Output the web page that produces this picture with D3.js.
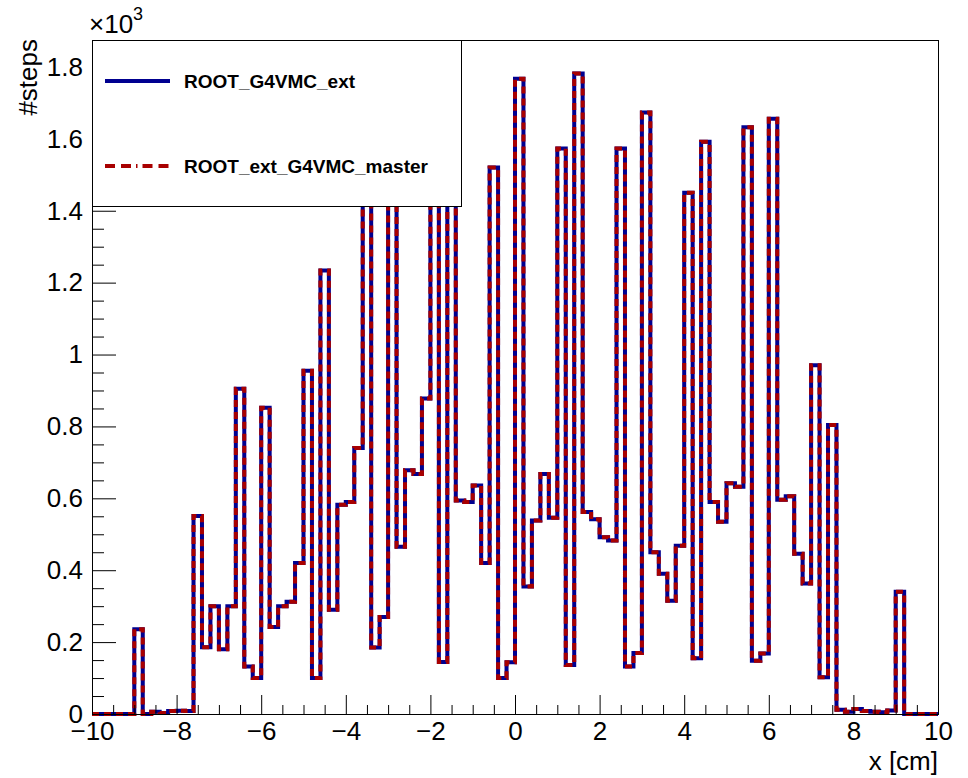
<!DOCTYPE html>
<html>
<head>
<meta charset="utf-8">
<script src="https://cdn.jsdelivr.net/npm/d3@7"></script>
<style>
  body { margin: 0; background: #fff; }
  svg { display: block; }
  text { font-family: "Liberation Sans", Arial, Helvetica, sans-serif; }
</style>
</head>
<body>
<svg id="chart"></svg>
<script>
// #steps per x bin, two ROOT runs (they sit on top of each other)
const xRange = [-10, 10]
const nBins = 100

const stepsExt = [
  0, 0, 0, 0, 0, 236, 0, 6, 3, 8,
  9, 8, 551, 186, 300, 180, 300, 905, 132, 100,
  852, 242, 300, 312, 420, 955, 100, 1234, 290, 582,
  590, 740, 1560, 185, 270, 1480, 465, 678, 668, 878,
  1620, 145, 1530, 594, 590, 636, 420, 1520, 100, 144,
  1767, 355, 538, 668, 546, 1573, 136, 1782, 562, 542,
  492, 483, 1573, 132, 170, 1673, 450, 390, 315, 468,
  1450, 155, 1592, 590, 535, 642, 632, 1632, 148, 168,
  1656, 596, 606, 446, 363, 970, 102, 804, 12, 6,
  14, 8, 6, 5, 10, 340, 0, 0, 0, 0
]

const stepsMaster = [
  0, 0, 0, 0, 0, 236, 0, 6, 3, 8,
  9, 8, 551, 186, 300, 180, 300, 905, 132, 100,
  852, 242, 300, 312, 420, 955, 100, 1234, 290, 582,
  590, 740, 1560, 185, 270, 1480, 465, 678, 668, 878,
  1620, 145, 1530, 594, 590, 636, 420, 1520, 100, 144,
  1767, 355, 538, 668, 546, 1573, 136, 1782, 562, 542,
  492, 483, 1573, 132, 170, 1673, 450, 390, 315, 468,
  1450, 155, 1592, 590, 535, 642, 632, 1632, 148, 168,
  1656, 596, 606, 446, 363, 970, 102, 804, 12, 6,
  14, 8, 6, 5, 10, 340, 0, 0, 0, 0
]

const xTicks = [-10, -8, -6, -4, -2, 0, 2, 4, 6, 8, 10]
const yTicks = [0, 200, 400, 600, 800, 1000, 1200, 1400, 1600, 1800]
const yTickLabels = ["0", "0.2", "0.4", "0.6", "0.8", "1", "1.2", "1.4", "1.6", "1.8"]
const yMax = 1875

const seriesNames = ["ROOT_G4VMC_ext", "ROOT_ext_G4VMC_master"]

// sizes
let svgWidth = 968
let svgHeight = 778
let margin = { left: 92, top: 40, right: 30, bottom: 64 }
let chartWidth = svgWidth - margin.left - margin.right
let chartHeight = svgHeight - margin.top - margin.bottom

const blue = "#000090"
const red = "#a80000"
const labelSize = "26px"

const svg = d3.select("#chart")
  .attr("width", svgWidth)
  .attr("height", svgHeight)

var x = d3.scaleLinear().domain(xRange).range([margin.left, margin.left + chartWidth])
var y = d3.scaleLinear().domain([0, yMax]).range([margin.top + chartHeight, margin.top])

// bin edges -> step outline
const binWidth = (xRange[1] - xRange[0]) / nBins
function toSteps(values) {
  var pts = values.map((v, i) => ({ x: xRange[0] + i * binWidth, v: v }))
  pts.push({ x: xRange[1], v: values[values.length - 1] })
  return pts
}

const stepLine = d3.line()
  .curve(d3.curveStepAfter)
  .x(d => x(d.x))
  .y(d => y(d.v))

svg.append("path")
  .attr("d", stepLine(toSteps(stepsExt)))
  .attr("fill", "none")
  .attr("stroke", blue)
  .attr("stroke-width", 4)

svg.append("path")
  .attr("d", stepLine(toSteps(stepsMaster)))
  .attr("fill", "none")
  .attr("stroke", red)
  .attr("stroke-width", 4)
  .attr("stroke-dasharray", "7,5")

// axes (ticks inward like ROOT)
var yAxis = svg.append("g")
  .attr("transform", `translate(${margin.left},0)`)
  .call(d3.axisLeft(y)
    .tickValues(yTicks)
    .tickFormat((d, i) => yTickLabels[i])
    .tickSizeInner(-24)
    .tickSizeOuter(0)
    .tickPadding(9))

var yMinor = svg.append("g")
  .attr("transform", `translate(${margin.left},0)`)
  .call(d3.axisLeft(y)
    .tickValues(d3.range(0, yMax, 50).filter(v => v % 200 != 0))
    .tickFormat("")
    .tickSizeInner(-12)
    .tickSizeOuter(0))
yMinor.select(".domain").remove()

var xAxis = svg.append("g")
  .attr("transform", `translate(0,${margin.top + chartHeight})`)
  .call(d3.axisBottom(x)
    .tickValues(xTicks)
    .tickSizeInner(-19)
    .tickSizeOuter(0)
    .tickPadding(8))

var xMinor = svg.append("g")
  .attr("transform", `translate(0,${margin.top + chartHeight})`)
  .call(d3.axisBottom(x)
    .tickValues(d3.range(-9.5, 10, 0.5).filter(v => v % 2 != 0))
    .tickFormat("")
    .tickSizeInner(-9)
    .tickSizeOuter(0))
xMinor.select(".domain").remove()

svg.selectAll(".tick text")
  .style("font-size", labelSize)
  .attr("fill", "#000")
svg.selectAll(".tick line, .domain").attr("stroke", "#000")

// frame
svg.append("rect")
  .attr("x", margin.left + 0.5)
  .attr("y", margin.top + 0.5)
  .attr("width", chartWidth)
  .attr("height", chartHeight)
  .attr("fill", "none")
  .attr("stroke", "#000")
  .attr("stroke-width", 1)

// titles
svg.append("text")
  .attr("transform", `translate(37,${margin.top - 1}) rotate(-90)`)
  .attr("text-anchor", "end")
  .style("font-size", labelSize)
  .text("#steps")

svg.append("text")
  .attr("x", margin.left + chartWidth)
  .attr("y", 770)
  .attr("text-anchor", "end")
  .style("font-size", labelSize)
  .text("x [cm]")

var expo = svg.append("text")
  .attr("x", 89)
  .attr("y", 33)
  .style("font-size", labelSize)
expo.append("tspan").text("×10")
expo.append("tspan").attr("dy", -13).style("font-size", "18px").text("3")

// legend
var legend = svg.append("g")
legend.append("rect")
  .attr("x", margin.left + 0.5)
  .attr("y", margin.top + 0.5)
  .attr("width", 369)
  .attr("height", 166)
  .attr("fill", "#fff")
  .attr("stroke", "#000")

var legendRows = [
  { name: seriesNames[0], color: blue, dash: null, ly: 81, ty: 88 },
  { name: seriesNames[1], color: red, dash: "10,6,10,5,1.5,5,10,6,10", ly: 166, ty: 173 }
]

legendRows.forEach(r => {
  legend.append("line")
    .attr("x1", 105).attr("x2", 170)
    .attr("y1", r.ly).attr("y2", r.ly)
    .attr("stroke", r.color)
    .attr("stroke-width", 4)
    .attr("stroke-dasharray", r.dash)
  legend.append("text")
    .attr("x", 184)
    .attr("y", r.ty)
    .style("font-size", "19px")
    .style("font-weight", "bold")
    .text(r.name)
})
</script>
</body>
</html>
